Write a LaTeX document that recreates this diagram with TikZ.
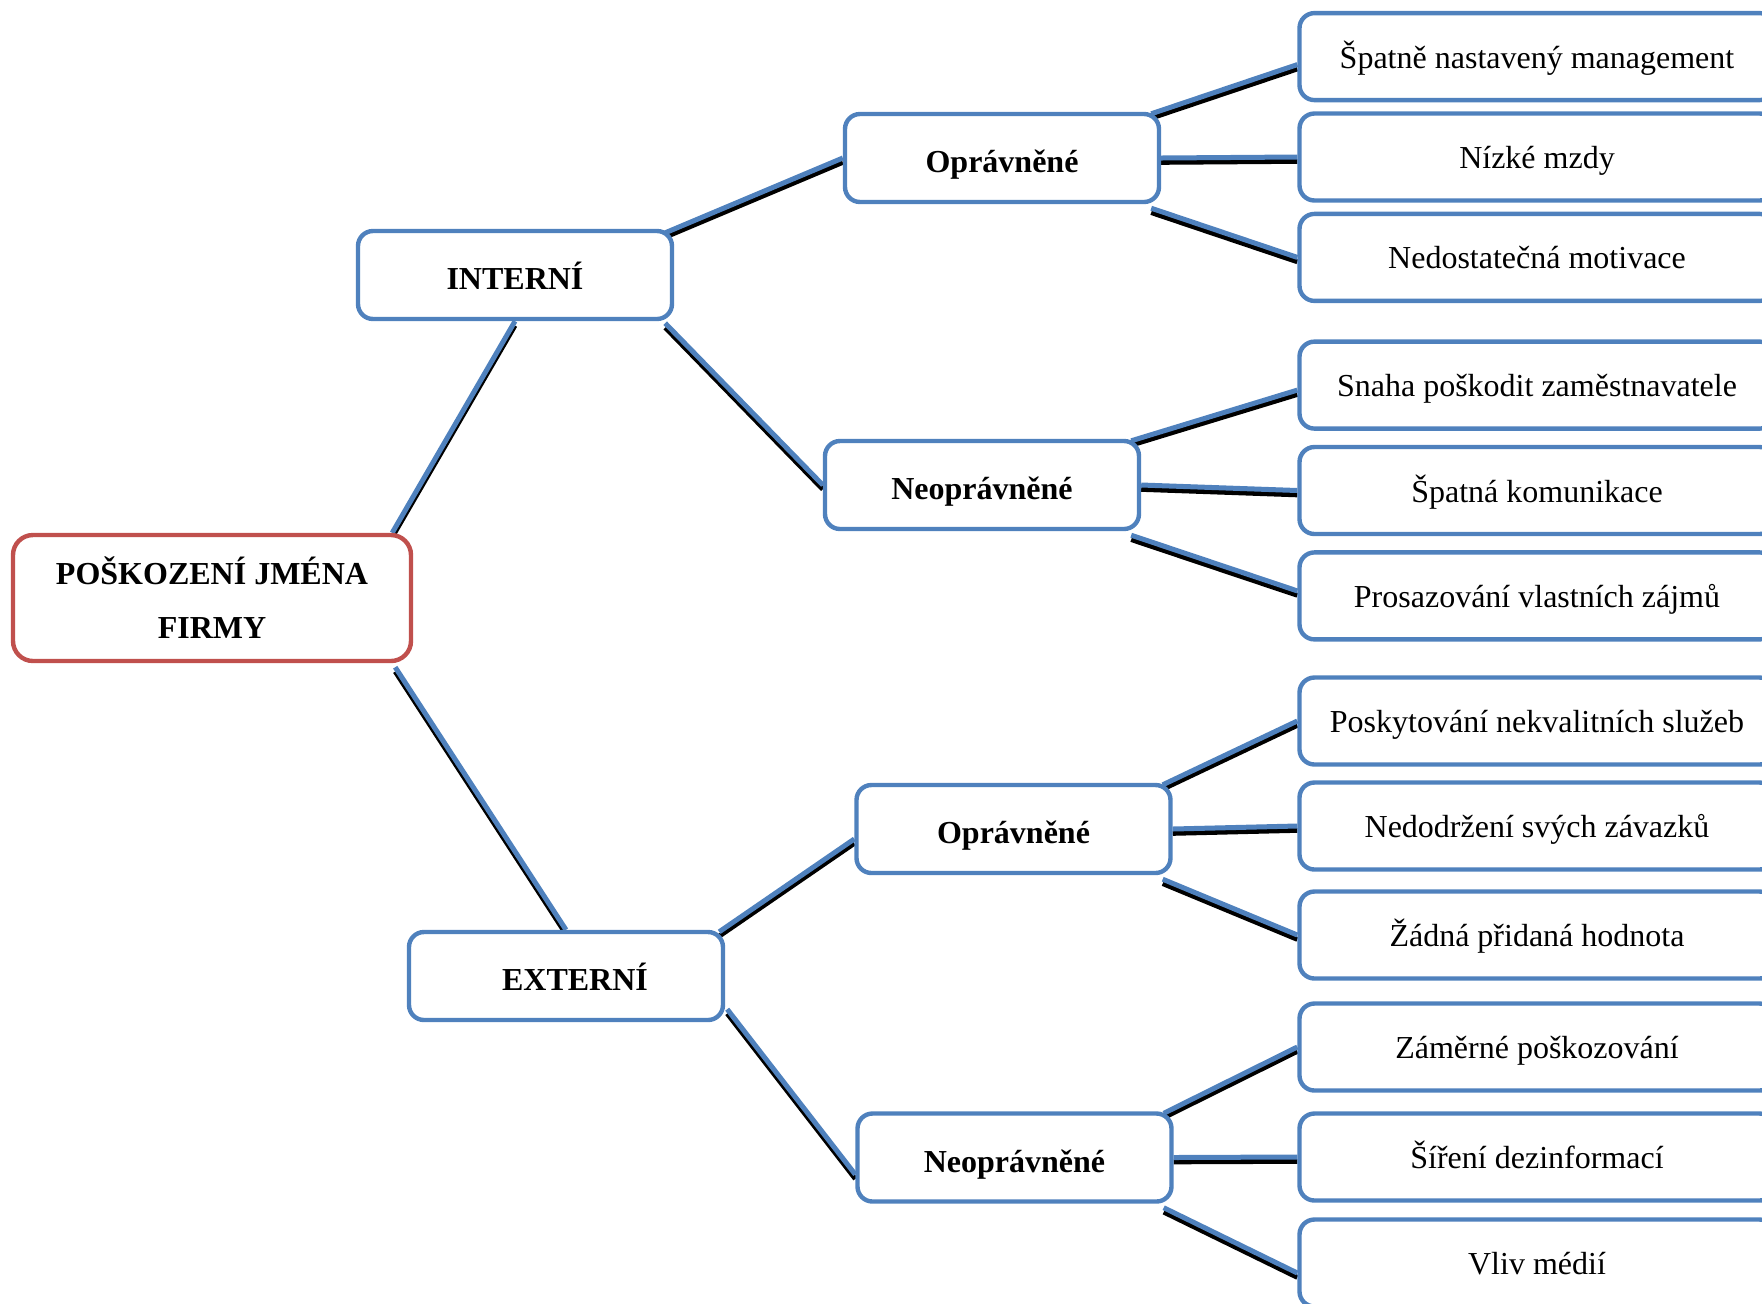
\documentclass[tikz,border=0pt]{standalone}
\usepackage{fontspec}
\setmainfont{Liberation Serif}
\usepackage{tikz}
\definecolor{boxblue}{RGB}{79,129,189}
\definecolor{rootred}{RGB}{192,80,77}
\tikzset{
    rootbox/.style={draw=rootred, line width=2.2pt, rounded corners=10pt, fill=white, minimum width=199pt, minimum height=63pt, align=center, font=\bfseries\fontsize{16}{27}\selectfont},
    groupbox/.style={draw=boxblue, line width=2.2pt, rounded corners=7.5pt, fill=white, minimum width=157pt, minimum height=44pt, text height=14.5pt, text depth=0pt, font=\bfseries\fontsize{16}{20}\selectfont},
    leaf/.style={draw=boxblue, line width=2.2pt, rounded corners=7.5pt, fill=white, minimum width=237.5pt, minimum height=43.5pt, text height=11.5pt, text depth=0pt, font=\fontsize{16}{20}\selectfont},
    link/.style={draw=boxblue, line width=2.5pt, preaction={draw=black, line width=2.4pt, transform canvas={yshift=-2.2pt}}} }
\usetikzlibrary{positioning, backgrounds}

\begin{document}
\begin{tikzpicture}[x=0.5pt, y=-0.5pt]
			\useasboundingbox (0,0) rectangle (1762,1303);
			\clip (0,0) rectangle (1762,1303);
			\node[rootbox] (root) at (212,598) {POŠKOZENÍ JMÉNA\\FIRMY};
			\node[groupbox] (int) at (515,275) {INTERNÍ};
			\node[groupbox] (ext) at (566,976) {\hspace*{9pt}EXTERNÍ};
			\node[groupbox] (opr1) at (1002,158) {Oprávněné};
			\node[groupbox] (neo1) at (982,485) {Neoprávněné};
			\node[groupbox] (opr2) at (1013.5,829) {Oprávněné};
			\node[groupbox] (neo2) at (1014.5,1157.5) {Neoprávněné};
			% ----
			\node[leaf] (mzdy) at (1537,157) {Nízké mzdy};
			\node[leaf, above = 4.5pt of mzdy] (mgmt) {Špatně nastavený management};
			\node[leaf, below = 4.5pt of mzdy] (motiv) {Nedostatečná motivace};
			\node[leaf] (komun) at (1537,490.5) {Špatná komunikace};
			\node[leaf, above = 7pt of komun] (snaha) {Snaha poškodit zaměstnavatele};
			\node[leaf, below = 7pt of komun] (zajmy) {Prosazování vlastních zájmů};
			\node[leaf] (zavaz) at (1537,826) {Nedodržení svých závazků};
			\node[leaf, above = 6.8pt of zavaz] (sluzby) {Poskytování nekvalitních služeb};
			\node[leaf, below = 8.8pt of zavaz] (hodnota) {Žádná přidaná hodnota};
			\node[leaf] (dezinf) at (1537,1157) {Šíření dezinformací};
			\node[leaf, above = 9.3pt of dezinf] (zamer) {Záměrné poškozování};
			\node[leaf, below = 7.3pt of dezinf] (media) {Vliv médií};
			% ----
			\begin{pgfonlayer}{background}
			\draw[link] ([shift={(-21,0)}]root.north east) -- (int.south);
			\draw[link] ([shift={(-18,4)}]root.south east) -- (ext.north);
			\draw[link] ([shift={(-9,4)}]int.north east) -- (opr1.west);
			\draw[link] ([shift={(-9,2)}]int.south east) -- (neo1.west);
			\draw[link] ([shift={(-6,2)}]ext.north east) -- ([shift={(0,10)}]opr2.west);
			\draw[link] ([shift={(2,-13)}]ext.south east) -- ([shift={(0,17)}]neo2.west);
			% ----
			\draw[link] ([shift={(-10,2)}]opr1.north east) -- ([shift={(0,8)}]mgmt.west);
			\draw[link] (opr1.east) -- (mzdy.west);
			\draw[link] ([shift={(-10,4)}]opr1.south east) -- (motiv.west);
			\draw[link] ([shift={(-10,2)}]neo1.north east) -- ([shift={(0,5)}]snaha.west);
			\draw[link] (neo1.east) -- (komun.west);
			\draw[link] ([shift={(-10,4)}]neo1.south east) -- ([shift={(0,-5)}]zajmy.west);
			\draw[link] ([shift={(-10,2)}]opr2.north east) -- (sluzby.west);
			\draw[link] (opr2.east) -- (zavaz.west);
			\draw[link] ([shift={(-10,4)}]opr2.south east) -- (hodnota.west);
			\draw[link] ([shift={(-10,2)}]neo2.north east) -- (zamer.west);
			\draw[link] (neo2.east) -- (dezinf.west);
			\draw[link] ([shift={(-10,4)}]neo2.south east) -- ([shift={(0,10)}]media.west);
			\end{pgfonlayer}
		\end{tikzpicture}
\end{document}
